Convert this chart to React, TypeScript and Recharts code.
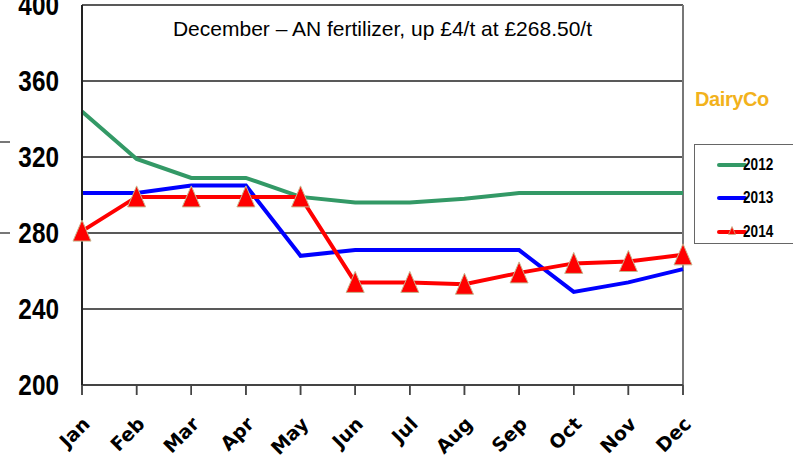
import React from 'react';
import { LineChart, Line, XAxis, YAxis, CartesianGrid, Legend, ReferenceLine } from 'recharts';

const months = ['Jan', 'Feb', 'Mar', 'Apr', 'May', 'Jun', 'Jul', 'Aug', 'Sep', 'Oct', 'Nov', 'Dec'];
const s2012 = [344, 319, 309, 309, 299, 296, 296, 298, 301, 301, 301, 301];
const s2013 = [301, 301, 305, 305, 268, 271, 271, 271, 271, 249, 254, 261];
const s2014 = [281, 299, 299, 299, 299, 254, 254, 253, 259, 264, 265, 268.5];
const yTicks = [200, 240, 280, 320, 360, 400];
const seriesNames = ['2012', '2013', '2014'];
const seriesColors = ['#339966', '#0000FF', '#FF0000'];
const titleText = 'December \u2013 AN fertilizer, up \u00a34/t at \u00a3268.50/t';
const brandText = 'DairyCo';

const data = months.map((m, i) => ({ month: m, y2012: s2012[i], y2013: s2013[i], y2014: s2014[i] }));

const Triangle = (props: any) => {
  const { cx, cy } = props;
  if (cx == null || cy == null) return null;
  return (
    <polygon
      points={`${cx},${cy - 11} ${cx - 9},${cy + 10} ${cx + 9},${cy + 10}`}
      fill="#FF0000"
      stroke="#C8B48C"
      strokeWidth={1}
    />
  );
};

const XTick = (props: any) => {
  const { x, y, payload } = props;
  return (
    <g>
      <line x1={x} x2={x} y1={y - 12} y2={y - 2} stroke="#444" strokeWidth={1.5} />
      <g transform={`translate(${x - 1},${y + 18})`}>
        <text
          transform="rotate(-45)"
          textAnchor="end"
          dominantBaseline="hanging"
          fontFamily="'DejaVu Sans', sans-serif"
          fontWeight="bold"
          fontSize={19}
          fill="#000"
        >
          {payload.value}
        </text>
      </g>
    </g>
  );
};

const YTick = (props: any) => {
  const { x, y, payload } = props;
  return (
    <g transform={`translate(${x},${y}) scale(0.84,1)`}>
      <text
        textAnchor="end"
        dy="0.36em"
        fontFamily="'Liberation Sans', Arial, sans-serif"
        fontWeight="bold"
        fontSize={29}
        fill="#000"
      >
        {payload.value}
      </text>
    </g>
  );
};

const LegendBox = () => (
  <div
    style={{
      width: 110,
      height: 100,
      border: '1.5px solid #666',
      boxSizing: 'border-box',
      background: '#fff',
      paddingTop: 3,
    }}
  >
    {seriesNames.map((n, i) => (
      <div key={n} style={{ display: 'flex', alignItems: 'center', height: 33.5 }}>
        <svg width={52} height={14} style={{ display: 'block' }}>
          <line x1={24} x2={50} y1={7} y2={7} stroke={seriesColors[i]} strokeWidth={4} strokeLinecap="round" />
          {i === 2 && <polygon points="37,1.5 33.5,9.5 40.5,9.5" fill="#FF0000" stroke="#C8B48C" strokeWidth={0.8} />}
        </svg>
        <span
          style={{
            display: 'inline-block',
            transform: 'scaleX(0.8)',
            transformOrigin: 'left center',
            fontFamily: "'Liberation Sans', Arial, sans-serif",
            fontWeight: 'bold',
            fontSize: 17,
            color: '#000',
            marginLeft: -4,
          }}
        >
          {n}
        </span>
      </div>
    ))}
  </div>
);

export default function App() {
  return (
    <div style={{ position: 'absolute', left: 0, top: 0, width: 793, height: 463, background: '#fff', overflow: 'hidden' }}>
      <LineChart width={793} height={463} data={data} margin={{ top: 5, right: 110, bottom: 0, left: 0 }}>
        <CartesianGrid vertical={false} stroke="#222" strokeWidth={1.5} />
        <XAxis
          dataKey="month"
          interval={0}
          stroke="#444"
          tickSize={10}
          tickLine={{ stroke: '#444', strokeWidth: 1.5 }}
          axisLine={{ stroke: '#444', strokeWidth: 2 }}
          tick={<XTick />}
          height={78}
        />
        <YAxis
          domain={[200, 400]}
          ticks={yTicks}
          interval={0}
          width={82}
          tickLine={false}
          tickSize={0}
          tickMargin={23}
          axisLine={{ stroke: '#222', strokeWidth: 2 }}
          tick={<YTick />}
        />
        <ReferenceLine x="Dec" stroke="#777" strokeWidth={2} />
        <Line type="linear" dataKey="y2012" name={seriesNames[0]} stroke={seriesColors[0]} strokeWidth={4} dot={false} isAnimationActive={false} />
        <Line type="linear" dataKey="y2013" name={seriesNames[1]} stroke={seriesColors[1]} strokeWidth={4} dot={false} isAnimationActive={false} />
        <Line type="linear" dataKey="y2014" name={seriesNames[2]} stroke={seriesColors[2]} strokeWidth={4} dot={<Triangle />} activeDot={false} isAnimationActive={false} />
        <Legend
          layout="horizontal"
          verticalAlign="middle"
          align="center"
          content={<LegendBox />}
          wrapperStyle={{ position: 'absolute', left: 694, top: 144, width: 110, height: 100 }}
        />
      </LineChart>
      <div
        style={{
          position: 'absolute',
          left: 82,
          width: 601,
          top: 17,
          textAlign: 'center',
          fontFamily: "'Liberation Sans', Arial, sans-serif",
          fontSize: 21,
          color: '#000',
          whiteSpace: 'nowrap',
        }}
      >
        {titleText}
      </div>
      <div
        style={{
          position: 'absolute',
          left: 695,
          top: 88,
          fontFamily: "'Liberation Sans', Arial, sans-serif",
          fontWeight: 'bold',
          fontSize: 20,
          color: '#F2B21C',
          letterSpacing: -0.4,
        }}
      >
        {brandText}
      </div>
      <div style={{ position: 'absolute', left: 0, top: 141, width: 10, height: 1.5, background: '#777' }} />
      <div style={{ position: 'absolute', left: 0, top: 232, width: 10, height: 1.5, background: '#777' }} />
    </div>
  );
}
